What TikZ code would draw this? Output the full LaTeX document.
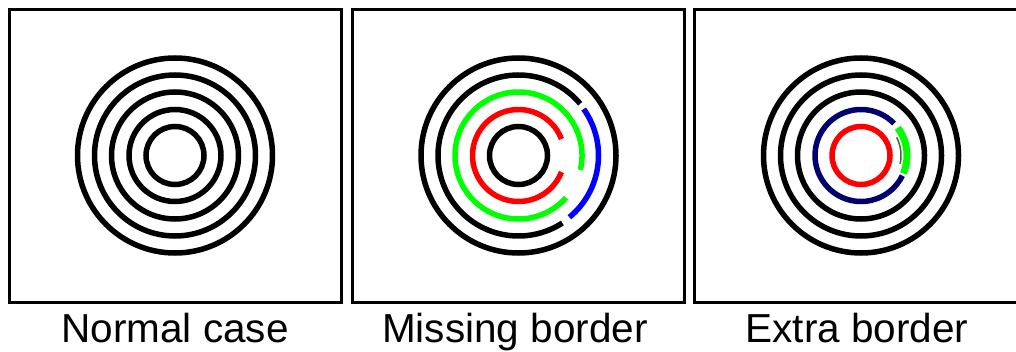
\documentclass[tikz,border=0pt]{standalone}
\usepackage{fontspec}
\setmainfont{Liberation Sans}
\usepackage{xcolor}
\usepackage{tikz}
\usetikzlibrary{positioning,calc}

\definecolor{ringgreen}{RGB}{0,255,0}
\definecolor{ringblue}{RGB}{0,0,255}
\definecolor{ringred}{RGB}{255,0,0}
\definecolor{ringnavy}{RGB}{0,0,110}
\definecolor{thingreen}{RGB}{60,110,40}

\begin{document}
\begin{tikzpicture}[x=1pt,y=1pt,
  panel/.style={draw,line width=3pt,minimum width=332pt,minimum height=292.5pt,inner sep=0pt},
  ring/.style={line width=5.5pt},
  caption/.style={font=\fontsize{40.5}{43}\selectfont,anchor=base}]
\useasboundingbox (0,0) rectangle (1016,351);
\clip (0,0) rectangle (1016,351);
% panels
\node[panel] (p1) at (175,195.25) {};
\node[panel] (p2) at (518,195.25) {};
\node[panel] (p3) at (860.5,195.25) {};
\coordinate (c1) at (175,195.5);
\coordinate (c2) at (518.5,195.5);
\coordinate (c3) at (861,195.5);
% normal case
\foreach \r in {29,46,63.5,80.5,97.5}
  \draw[ring] (c1) circle[radius=\r];
% missing border
\draw[ring] (c2) circle[radius=97.5];
\draw[ring] (c2) ++(40:80.5) arc[start angle=40,end angle=303,radius=80.5];
\draw[ring,ringblue] (c2) ++(-50.5:80) arc[start angle=-50.5,end angle=35.5,radius=80];
\draw[ring,ringgreen] (c2) ++(-13:63.5) arc[start angle=-13,end angle=318.5,radius=63.5];
\draw[ring,ringred] (c2) ++(21:46) arc[start angle=21,end angle=339,radius=46];
\draw[ring] (c2) circle[radius=29];
% extra border
\foreach \r in {63.5,80.5,97.5}
  \draw[ring] (c3) circle[radius=\r];
\draw[ring,ringnavy] (c3) ++(44:46) arc[start angle=44,end angle=334,radius=46];
\draw[ring,ringgreen,line width=7pt] (c3) ++(-23:46) arc[start angle=-23,end angle=37,radius=46];
\draw[thingreen,line width=1.5pt] (c3) ++(-12:40) arc[start angle=-12,end angle=27,radius=40];
\draw[ring,ringred] (c3) circle[radius=29];
% captions
\node[caption] (l1) at (175,9) {Normal case};
\node[caption] (l2) at (515,9) {Missing border};
\node[caption] (l3) at (857,9) {Extra border};
\end{tikzpicture}
\end{document}
